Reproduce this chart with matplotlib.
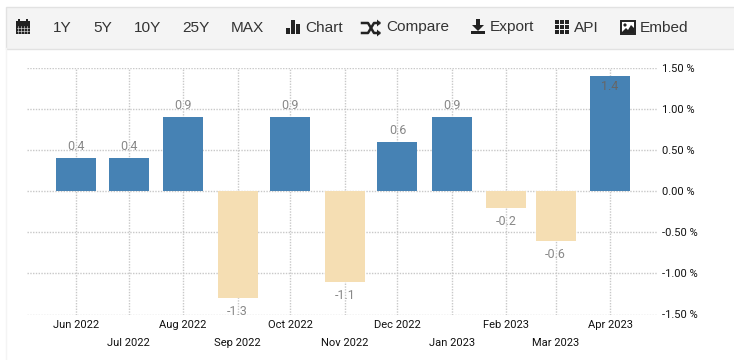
import pandas as pd
import matplotlib
matplotlib.use('Agg')
import matplotlib.pyplot as plt
import matplotlib.dates as mdates
from matplotlib.patches import Rectangle, Polygon, Circle

months = ['2022-06-01', '2022-07-01', '2022-08-01', '2022-09-01', '2022-10-01', '2022-11-01',
          '2022-12-01', '2023-01-01', '2023-02-01', '2023-03-01', '2023-04-01']
values = [0.4, 0.4, 0.9, -1.3, 0.9, -1.1, 0.6, 0.9, -0.2, -0.6, 1.4]
month_labels = ['Jun 2022', 'Jul 2022', 'Aug 2022', 'Sep 2022', 'Oct 2022', 'Nov 2022',
                'Dec 2022', 'Jan 2023', 'Feb 2023', 'Mar 2023', 'Apr 2023']
y_ticks = [-1.5, -1.0, -0.5, 0.0, 0.5, 1.0, 1.5]
menu_labels = ['1Y', '5Y', '10Y', '25Y', 'MAX', 'Chart', 'Compare', 'Export', 'API', 'Embed']

W, H = 734, 360
BLUE = '#4682b4'
WHEAT = '#f5deb3'
GRID = '#c8c8c8'

plt.rcParams['font.family'] = ['Roboto', 'DejaVu Sans']

dates = pd.to_datetime(months)
x = mdates.date2num(dates)
px_per_day = (610 - 76) / (x[-1] - x[0])

fig = plt.figure(figsize=(W / 100, H / 100), dpi=100, facecolor='white')

# toolbar and page furniture, in pixel coordinates
bg = fig.add_axes([0, 0, 1, 1], zorder=0)
bg.set_xlim(0, W)
bg.set_ylim(H, 0)
bg.axis('off')
bg.add_patch(Rectangle((5.5, 6.5), W, 42, fc='#f4f4f4', ec='#e2e2e2', lw=1))
bg.plot([5.5, 5.5], [48, H], color='#f4f4f4', lw=1)

menu_x = [53, 93, 134, 182, 231, 305, 386, 490, 574, 640]
for lab, mx in zip(menu_labels, menu_x):
    bg.text(mx, 27.5, lab, fontsize=11.1, family=['Liberation Sans'], color='#333333', va='center', ha='left')

ICON = '#222222'
# calendar
bg.add_patch(Rectangle((15.5, 20.5), 14.5, 13.5, fc=ICON, ec='none'))
bg.add_patch(Rectangle((18, 19), 2, 2, fc=ICON, ec='none'))
bg.add_patch(Rectangle((25.5, 19), 2, 2, fc=ICON, ec='none'))
for gx in range(18, 29, 3):
    bg.plot([gx, gx], [26, 33], color='#f4f4f4', lw=0.4)
for gy in (28, 30.5):
    bg.plot([16.5, 29], [gy, gy], color='#f4f4f4', lw=0.4)
# bars
for bx, bh in zip((286, 291, 296), (6, 14, 10)):
    bg.add_patch(Rectangle((bx, 34 - bh), 3.8, bh, fc=ICON, ec='none'))
# shuffle
bg.plot([362, 368, 374, 379], [23, 23, 33, 33], color=ICON, lw=1.8)
bg.plot([362, 368, 374, 379], [33, 33, 23, 23], color=ICON, lw=1.8)
bg.add_patch(Polygon([(377, 19.5), (381, 23), (377, 26.5)], fc=ICON, ec='none'))
bg.add_patch(Polygon([(377, 29.5), (381, 33), (377, 36.5)], fc=ICON, ec='none'))
# download
bg.add_patch(Polygon([(476, 19), (480, 19), (480, 25), (484, 25), (478, 31), (472, 25), (476, 25)],
                     fc=ICON, ec='none'))
bg.add_patch(Rectangle((471, 31), 14, 3, fc=ICON, ec='none'))
# grid icon
for gx in (555, 560, 565):
    for gy in (20, 25, 30):
        bg.add_patch(Rectangle((gx, gy), 4, 4, fc=ICON, ec='none'))
# picture
bg.add_patch(Rectangle((621, 21), 13.5, 12.5, fc='white', ec=ICON, lw=1.4))
bg.add_patch(Circle((625, 25), 1.6, fc=ICON, ec='none'))
bg.add_patch(Polygon([(621, 33), (626, 28), (628, 30), (631, 25), (634, 28), (634, 33)], fc=ICON, ec='none'))

ax = fig.add_axes([27 / W, (H - 314.5) / H, (658 - 27) / W, (314.5 - 68) / H], zorder=1)
ax.patch.set_alpha(0)

colors = [BLUE if v >= 0 else WHEAT for v in values]
ax.bar(x, values, width=40 / px_per_day, color=colors, zorder=2)

ax.set_xlim(x[0] - 49 / px_per_day, x[-1] + 48 / px_per_day)
ax.set_ylim(-1.5, 1.5)

ax.set_xticks(x)
ax.set_xticklabels(month_labels)
ax.set_yticks(y_ticks)
ax.set_yticklabels([f'{t:.2f} %' for t in y_ticks])
ax.yaxis.tick_right()
ax.tick_params(axis='both', length=0, labelsize=8, labelcolor='#111111')
ax.tick_params(axis='y', pad=3)
for i, tick in enumerate(ax.xaxis.get_major_ticks()):
    tick.set_pad(17 if i % 2 else 4)

ax.grid(True, color=GRID, linestyle=(0, (1, 1)), linewidth=1)
ax.set_axisbelow(True)
for s in ax.spines.values():
    s.set_visible(False)

for xi, v in zip(x, values):
    if v == 1.4:
        ax.annotate(f'{v}', (xi, v), xytext=(0, -17), textcoords='offset pixels',
                    ha='center', va='bottom', fontsize=9, color='#666666', zorder=3)
    elif v >= 0:
        ax.annotate(f'{v}', (xi, v), xytext=(0, 5), textcoords='offset pixels',
                    ha='center', va='bottom', fontsize=9, color='#888888', zorder=3)
    else:
        ax.annotate(f'{v}', (xi, v), xytext=(0, -7), textcoords='offset pixels',
                    ha='center', va='top', fontsize=9, color='#888888', zorder=3)

fig.savefig('out.png', dpi=100)
